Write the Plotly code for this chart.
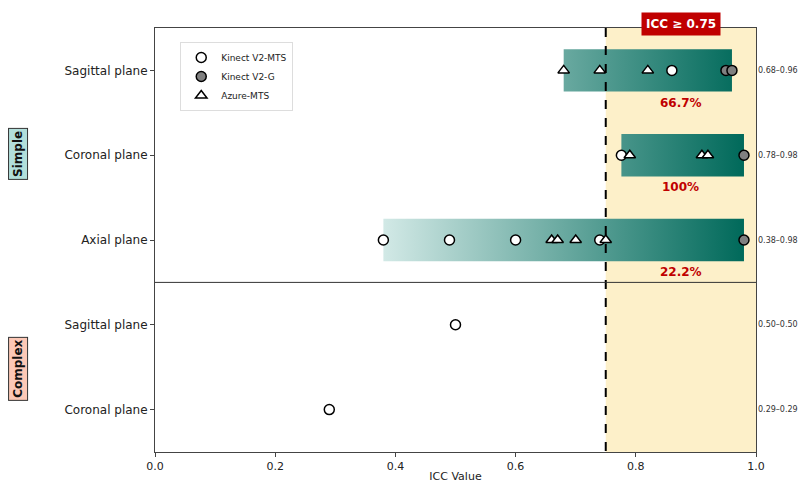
import plotly.graph_objects as go

# rows, top to bottom
row_labels = ["Sagittal plane", "Coronal plane", "Axial plane", "Sagittal plane", "Coronal plane"]
row_group = ["Simple", "Simple", "Simple", "Complex", "Complex"]

# ICC values per row, per device/method
kinect_v2_mts = [[0.86], [0.776], [0.38, 0.49, 0.60, 0.74], [0.50], [0.29]]
kinect_v2_g = [[0.95, 0.96], [0.98], [0.98], [], []]
azure_mts = [[0.68, 0.74, 0.82], [0.79, 0.91, 0.92], [0.66, 0.67, 0.70, 0.75], [], []]

THRESH = 0.75
TEAL_LIGHT = "#d2e9e6"
TEAL_DARK = "#00695a"

fig = go.Figure()

all_vals = []
for i in range(len(row_labels)):
    all_vals.append(kinect_v2_mts[i] + kinect_v2_g[i] + azure_mts[i])

simple_min = min(min(v) for v, g in zip(all_vals, row_group) if g == "Simple")
simple_max = max(max(v) for v, g in zip(all_vals, row_group) if g == "Simple")

# gradient range bars (simple rows only)
for i, vals in enumerate(all_vals):
    lo, hi = min(vals), max(vals)
    if row_group[i] != "Simple":
        continue
    fig.add_trace(go.Scatter(
        x=[lo, hi, hi, lo, lo],
        y=[i - 0.25, i - 0.25, i + 0.25, i + 0.25, i - 0.25],
        mode="lines", line=dict(width=0), fill="toself",
        fillgradient=dict(type="horizontal",
                          colorscale=[[0, TEAL_LIGHT], [1, TEAL_DARK]],
                          start=simple_min, stop=simple_max),
        hoverinfo="skip", showlegend=False,
    ))

# threshold line
fig.add_trace(go.Scatter(
    x=[THRESH, THRESH], y=[-0.5, 4.5], mode="lines",
    line=dict(color="black", width=2, dash="dash"),
    hoverinfo="skip", showlegend=False,
))


def series_xy(data):
    xs, ys = [], []
    for i, vals in enumerate(data):
        for v in vals:
            xs.append(v)
            ys.append(i)
    return xs, ys


for name, data, sym, fillc in [
    ("Kinect V2-MTS", kinect_v2_mts, "circle", "white"),
    ("Kinect V2-G", kinect_v2_g, "circle", "#808080"),
    ("Azure-MTS", azure_mts, "triangle-up", "white"),
]:
    xs, ys = series_xy(data)
    fig.add_trace(go.Scatter(
        x=xs, y=ys, mode="markers", name=name,
        marker=dict(symbol=sym, size=10, color=fillc, line=dict(color="black", width=1.5)),
    ))

# highlighted region
fig.add_shape(type="rect", xref="x", yref="paper", x0=THRESH, x1=1.0, y0=0, y1=1,
              fillcolor="#fdf0c9", line=dict(width=0), layer="below")
# group divider
fig.add_shape(type="line", xref="paper", yref="y", x0=0, x1=1, y0=2.5, y1=2.5,
              line=dict(color="#333", width=1))

# range labels (right of the axes) and percentages
for i, vals in enumerate(all_vals):
    lo, hi = min(vals), max(vals)
    fig.add_annotation(x=1.037, y=i, xref="paper", yref="y", text=f"{lo:.2f}–{hi:.2f}",
                       xanchor="center", showarrow=False, font=dict(size=8, color="#333"))
    if row_group[i] == "Simple":
        pct = 100 * sum(v >= THRESH for v in vals) / len(vals)
        txt = f"{pct:.0f}%" if pct == 100 else f"{pct:.1f}%"
        fig.add_annotation(x=0.875, y=i + 0.38, xref="x", yref="y", text=f"<b>{txt}</b>",
                           showarrow=False, font=dict(size=12, color="#c00000"))

fig.add_annotation(x=0.875, y=1.038, xref="x", yref="paper", text="<b>ICC ≥ 0.75</b>",
                   showarrow=False, font=dict(size=12, color="white"),
                   bgcolor="#c00000", borderpad=4)

fig.add_annotation(x=-0.228, y=0.703, xref="paper", yref="paper", text="<b>Simple</b>",
                   xanchor="center", yanchor="middle",
                   textangle=-90, showarrow=False, font=dict(size=12, color="#111"),
                   bgcolor="#b2dfdb", bordercolor="#333", borderwidth=1, borderpad=2)
fig.add_annotation(x=-0.228, y=0.196, xref="paper", yref="paper", text="<b>Complex</b>",
                   xanchor="center", yanchor="middle",
                   textangle=-90, showarrow=False, font=dict(size=12, color="#111"),
                   bgcolor="#fcc8b6", bordercolor="#333", borderwidth=1, borderpad=2)

fig.update_xaxes(range=[0, 1], tickvals=[0, 0.2, 0.4, 0.6, 0.8, 1.0],
                 ticktext=["0.0", "0.2", "0.4", "0.6", "0.8", "1.0"],
                 ticks="outside", ticklen=4, showgrid=False, zeroline=False, automargin=False,
                 showline=True, linecolor="#444", mirror=True, tickfont=dict(size=11),
                 title=dict(text="ICC Value", font=dict(size=11), standoff=0))
fig.update_yaxes(range=[4.5, -0.5], tickvals=list(range(len(row_labels))), ticktext=row_labels,
                 ticks="outside", ticklen=4, showgrid=False, zeroline=False, automargin=False,
                 showline=True, linecolor="#444", mirror=True, tickfont=dict(size=12))

# page body has an 8px margin, so the margins below are shifted to compensate
fig.update_layout(
    width=809, height=482,
    margin=dict(l=147, r=61, t=20, b=38),
    plot_bgcolor="white", paper_bgcolor="white",
    font=dict(family="DejaVu Sans", color="#222", size=11),
    legend=dict(x=0.042, y=0.967, xanchor="left", yanchor="top",
                bordercolor="#ddd", borderwidth=1, font=dict(size=9),
                bgcolor="rgba(255,255,255,0.9)", tracegroupgap=0, itemwidth=30),
)

fig.write_html("out.html")
